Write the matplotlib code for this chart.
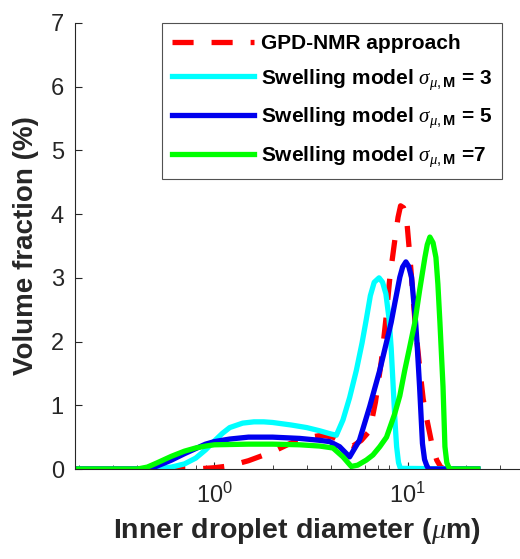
import numpy as np
import matplotlib.pyplot as plt

plt.rcParams['font.family'] = ['Liberation Sans', 'DejaVu Sans']
plt.rcParams['mathtext.fontset'] = 'custom'
plt.rcParams['mathtext.rm'] = 'Liberation Sans'
plt.rcParams['mathtext.it'] = 'Liberation Serif:italic'
plt.rcParams['mathtext.bf'] = 'Liberation Sans:bold'

# GPD-NMR approach (red dashed)
x_nmr = [0.55, 0.8, 1.0, 1.2, 1.5, 2.0, 2.5, 3.0, 3.6, 4.1, 4.6, 5.2, 5.75, 6.35, 6.8, 7.3,
         7.7, 8.07, 8.57, 8.9, 9.17, 9.5, 9.84, 10.2, 10.9, 11.5, 12.0, 12.5, 13.3, 14.1, 14.8, 15.5]
y_nmr = [0, 0, 0.02, 0.05, 0.13, 0.27, 0.41, 0.49, 0.53, 0.5, 0.42, 0.36, 0.45, 0.6, 1.05, 1.7,
         2.35, 3.0, 3.6, 3.95, 4.13, 4.1, 3.95, 3.4, 2.3, 1.6, 1.1, 0.8, 0.4, 0.14, 0.03, 0]

# swelling model sigma = 3 (cyan)
x_s3 = [0.19, 0.3, 0.4, 0.5, 0.6, 0.7, 0.8, 0.9, 1.0, 1.1, 1.2, 1.4, 1.6, 1.8, 2.0, 2.5,
        3.0, 3.5, 4.0, 4.27, 4.62, 5.0, 5.42, 5.8, 6.1, 6.4, 6.7, 7.1, 7.4, 7.7, 8.0, 8.2,
        8.4, 8.6, 8.75, 8.95, 9.15, 23]
y_s3 = [0, 0, 0, 0.01, 0.03, 0.08, 0.17, 0.3, 0.44, 0.56, 0.65, 0.72, 0.74, 0.74, 0.73, 0.69,
        0.65, 0.6, 0.55, 0.53, 0.77, 1.12, 1.55, 1.98, 2.35, 2.72, 2.93, 3.0, 2.93, 2.75, 2.35, 1.9,
        1.29, 0.7, 0.35, 0.1, 0.01, 0]

# swelling model sigma = 5 (blue)
x_s5 = [0.19, 0.4, 0.45, 0.5, 0.6, 0.7, 0.8, 0.9, 1.0, 1.2, 1.5, 2.0, 2.76, 3.5, 3.94, 4.44,
        5.0, 5.62, 6.35, 7.16, 7.7, 8.2, 8.56, 9.09, 9.4, 9.77, 10.1, 10.45, 10.97, 11.17, 11.5,
        11.9, 12.2, 12.5, 12.8, 23]
y_s5 = [0, 0, 0.01, 0.04, 0.14, 0.24, 0.32, 0.39, 0.43, 0.47, 0.5, 0.5, 0.48, 0.45, 0.43, 0.35,
        0.19, 0.45, 0.98, 1.55, 1.95, 2.3, 2.6, 3.01, 3.17, 3.25, 3.18, 3.01, 2.3, 1.95, 1.29,
        0.4, 0.15, 0.06, 0, 0]

# swelling model sigma = 7 (green)
x_s7 = [0.19, 0.4, 0.45, 0.5, 0.6, 0.7, 0.8, 0.9, 1.0, 1.5, 2.0, 2.76, 3.5, 4.1, 4.62, 5.1,
        5.5, 6.1, 6.6, 7.16, 7.76, 8.56, 9.09, 9.64, 10.2, 10.87, 11.5, 12.25, 12.6, 13.0, 13.5,
        13.97, 14.3, 14.65, 15.2, 15.55, 15.9, 16.2, 16.5, 23]
y_s7 = [0, 0, 0.03, 0.09, 0.2, 0.28, 0.33, 0.36, 0.38, 0.39, 0.39, 0.38, 0.36, 0.33, 0.19, 0.04,
        0.06, 0.14, 0.22, 0.35, 0.5, 0.87, 1.15, 1.55, 1.9, 2.3, 2.8, 3.32, 3.52, 3.64, 3.55,
        3.32, 2.9, 2.3, 1.29, 0.35, 0.1, 0.04, 0, 0]

labels = ['GPD-NMR approach',
          r'Swelling model $\sigma_{\mu,\mathbf{M}}$ = 3',
          r'Swelling model $\sigma_{\mu,\mathbf{M}}$ = 5',
          r'Swelling model $\sigma_{\mu,\mathbf{M}}$ =7']

fig = plt.figure(figsize=(5.2, 5.59), dpi=100)
ax = fig.add_axes([0.144, 0.161, 0.856, 0.798])

lw = 3.8
ax.plot(x_nmr, y_nmr, color='#FF0000', lw=lw, dashes=(4.0, 3.4), label=labels[0])
ax.plot(x_s3, y_s3, color='#00FFFF', lw=lw, label=labels[1])
ax.plot(x_s5, y_s5, color='#0000EE', lw=lw, label=labels[2])
ax.plot(x_s7, y_s7, color='#00FF00', lw=lw, label=labels[3])

ax.set_xscale('log')
ax.set_xlim(0.19, 38)
ax.set_ylim(0, 7)
ax.set_yticks(range(0, 8))

tc = '#262626'
for s in ['top', 'right']:
    ax.spines[s].set_visible(False)
for s in ['left', 'bottom']:
    ax.spines[s].set_color(tc)
ax.tick_params(axis='both', which='both', direction='in', colors=tc, labelsize=17)
ax.tick_params(axis='both', which='major', length=5)
ax.tick_params(axis='x', which='minor', length=3)
ax.tick_params(axis='x', which='major', pad=10)
ax.tick_params(axis='y', which='major', pad=8)

ax.set_xlabel(r'Inner droplet diameter ($\mu$m)', fontsize=20.5, fontweight='bold', color=tc, labelpad=6)
ax.set_ylabel('Volume fraction (%)', fontsize=20, fontweight='bold', color=tc, labelpad=8)

leg = ax.legend(loc='upper right', bbox_to_anchor=(0.966, 0.958), bbox_transform=fig.transFigure,
                prop={'weight': 'bold', 'size': 15}, handlelength=3.9, labelspacing=0.68,
                fancybox=False, borderaxespad=0, handletextpad=0.35, borderpad=0.5)
leg.get_frame().set_edgecolor(tc)
leg.get_frame().set_linewidth(0.8)
for t in leg.get_texts():
    t.set_color('black')

fig.savefig('out.png', dpi=100)
